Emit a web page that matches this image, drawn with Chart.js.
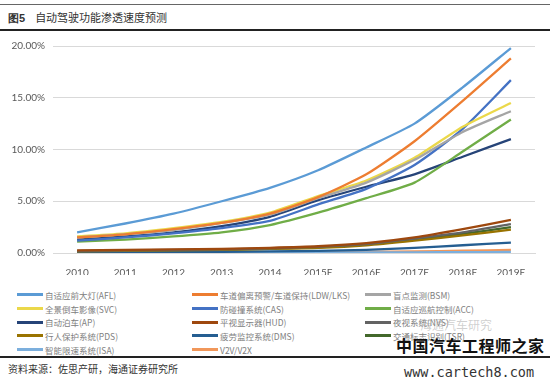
<!DOCTYPE html>
<html>
<head>
<meta charset="utf-8">
<script src="https://cdn.jsdelivr.net/npm/chart.js@4"></script>
<style>
  body { margin: 0; width: 550px; height: 387px; background: #fff; position: relative; overflow: hidden;
         font-family: "Noto Sans CJK SC", "Noto Sans", sans-serif; }
  .topline { position: absolute; left: 0; top: 4px; width: 550px; height: 1px; background: #666; }
  .title { position: absolute; left: 8px; top: 9px; font-size: 11px; color: #333; }
  .title b { font-family: "Liberation Sans", sans-serif; margin-right: 10px; }
  .rule { position: absolute; left: 0; width: 550px; background: #222; }
  #wrap { position: absolute; left: 0; top: 32px; width: 550px; height: 243px; }
  #legend { position: absolute; left: 17px; top: 288px; display: grid;
            grid-template-columns: 175px 173px 170px; grid-auto-rows: 13.7px;
            font-size: 8.5px; color: #808080; }
  #legend div { display: flex; align-items: center; white-space: nowrap; }
  #legend span.sw { display: inline-block; width: 26px; height: 3px; margin-right: 2px; }
  .source { position: absolute; left: 8px; top: 361px; font-size: 10px; color: #333; }
  .wm1 { position: absolute; left: 396px; top: 333px; font-size: 16px; font-weight: bold; color: #111; letter-spacing: 0.5px; }
  .wm2 { position: absolute; left: 404px; top: 364px; font-size: 13.5px; color: #333; font-family: "DejaVu Sans Mono", monospace; }
  .wm3 { position: absolute; left: 420px; top: 316px; font-size: 12px; color: rgba(150,150,150,0.45); }
</style>
</head>
<body>
<div class="topline"></div>
<div class="title"><b>图5</b>自动驾驶功能渗透速度预测</div>
<div class="rule" style="top:29px;height:2px"></div>
<div id="wrap"><canvas id="chart"></canvas></div>
<div id="legend"></div>
<div class="rule" style="top:356px;height:1.5px"></div>
<div class="source">资料来源：佐思产研，海通证券研究所</div>
<div class="wm3">海通汽车研究</div>
<div class="wm1">中国汽车工程师之家</div>
<div class="wm2">www.cartech8.com</div>
<script>
// categories
const years = ['2010', '2011', '2012', '2013', '2014', '2015E', '2016E', '2017E', '2018E', '2019E'];
const yTicks = [0, 5, 10, 15, 20];

// penetration, %
const afl = [2.0, 2.85, 3.8, 5.0, 6.3, 8.0, 10.2, 12.5, 16.0, 19.8];
const ldw = [1.5, 1.8, 2.3, 2.9, 3.8, 5.4, 7.6, 10.8, 14.7, 18.8];
const bsm = [1.5, 1.8, 2.2, 2.9, 3.7, 5.3, 6.8, 9.0, 11.7, 13.7];
const svc = [1.6, 1.9, 2.4, 3.0, 3.9, 5.5, 7.0, 9.2, 12.2, 14.5];
const cas = [1.2, 1.5, 1.9, 2.4, 3.1, 4.7, 6.2, 8.5, 12.0, 16.7];
const acc = [1.1, 1.3, 1.6, 2.0, 2.7, 3.9, 5.3, 6.8, 9.8, 12.9];
const ap  = [1.3, 1.6, 2.0, 2.6, 3.5, 5.1, 6.4, 7.6, 9.3, 11.0];
const hud = [0.25, 0.3, 0.35, 0.4, 0.5, 0.65, 0.95, 1.5, 2.3, 3.2];
const nvs = [0.2, 0.25, 0.3, 0.35, 0.45, 0.6, 0.85, 1.4, 2.0, 2.8];
const pds = [0.15, 0.2, 0.25, 0.3, 0.4, 0.5, 0.75, 1.2, 1.7, 2.25];
const dms = [0.05, 0.07, 0.1, 0.12, 0.15, 0.2, 0.3, 0.5, 0.75, 1.0];
const tsr = [0.15, 0.2, 0.25, 0.3, 0.4, 0.55, 0.8, 1.3, 1.85, 2.5];
const isa = [0.02, 0.02, 0.03, 0.03, 0.04, 0.05, 0.06, 0.07, 0.08, 0.1];
const v2v = [0.02, 0.03, 0.04, 0.05, 0.06, 0.08, 0.1, 0.15, 0.22, 0.3];

const names = ['自适应前大灯(AFL)', '车道偏离预警/车道保持(LDW/LKS)', '盲点监测(BSM)',
  '全景倒车影像(SVC)', '防碰撞系统(CAS)', '自适应巡航控制(ACC)',
  '自动泊车(AP)', '平视显示器(HUD)', '夜视系统(NVS)',
  '行人保护系统(PDS)', '疲劳监控系统(DMS)', '交通标志识别(TSR)',
  '智能限速系统(ISA)', 'V2V/V2X'];
const values = [afl, ldw, bsm, svc, cas, acc, ap, hud, nvs, pds, dms, tsr, isa, v2v];
const colors = ['#5B9BD5', '#ED7D31', '#A5A5A5', '#EBD84A', '#4472C4', '#70AD47',
  '#264478', '#9E480E', '#636363', '#997300', '#255E91', '#43682B', '#7CAFDD', '#F1975A'];

const datasets = names.map((n, i) => ({
  label: n,
  data: values[i],
  borderColor: colors[i],
  backgroundColor: colors[i],
  borderWidth: 2.3,
  pointRadius: 0,
  tension: 0.2,
  fill: false
}));

const tickFont = { family: 'Lato, "Open Sans", sans-serif', size: 10 };

new Chart(document.getElementById('chart'), {
  type: 'line',
  data: { labels: years, datasets: datasets },
  options: {
    responsive: true,
    maintainAspectRatio: false,
    animation: false,
    layout: { padding: { top: 11, right: 15, left: 0, bottom: 0 } },
    plugins: { legend: { display: false }, tooltip: { enabled: false } },
    scales: {
      x: {
        offset: true,
        grid: { display: false },
        border: { color: '#d9d9d9' },
        ticks: { color: '#595959', font: tickFont, maxRotation: 0, padding: 6 },
        afterFit: s => { s.height = 22; }
      },
      y: {
        min: 0,
        max: 20,
        afterBuildTicks: s => { s.ticks = yTicks.map(v => ({ value: v })); },
        grid: { color: '#d9d9d9', drawTicks: false },
        border: { display: false },
        ticks: { color: '#595959', font: tickFont, padding: 8, callback: v => v.toFixed(2) + '%' },
        afterFit: s => { s.width = 53; }
      }
    }
  }
});

// legend, 3 columns
const legend = document.getElementById('legend');
names.forEach((n, i) => {
  const item = document.createElement('div');
  item.innerHTML = `<span class="sw" style="background:${colors[i]}"></span>${n}`;
  legend.appendChild(item);
});
</script>
</body>
</html>
